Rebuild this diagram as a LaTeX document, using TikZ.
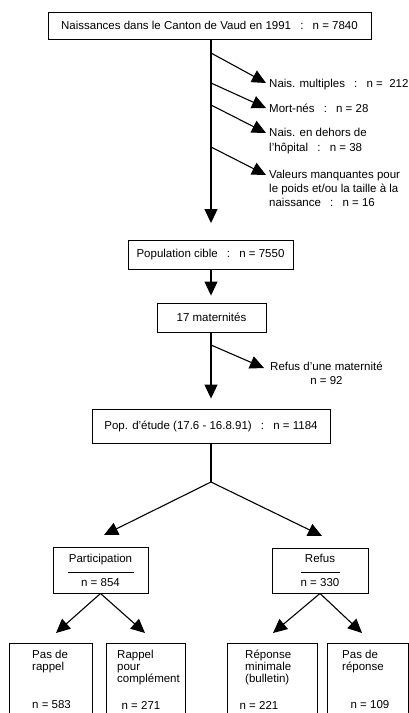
\documentclass[tikz,border=0pt]{standalone}
\usepackage{fontspec}
\setmainfont{Liberation Sans}
\usetikzlibrary{arrows.meta}
\newcommand\figfont{\fontsize{11.5pt}{14pt}\selectfont}
\newcommand\boxfont{\fontsize{11.5pt}{12pt}\selectfont}
\newcommand\sepc{\hspace{0.8em}:\hspace{0.8em}}
\begin{document}
\begin{tikzpicture}[x=1pt,y=-1pt,
  box/.style={draw,line width=0.9pt,inner sep=0pt,align=center,font=\figfont},
  arr/.style={line width=1.1pt,-{Triangle[length=14pt,width=13pt]}},
  ln/.style={line width=1.1pt},
  lab/.style={inner sep=0pt,font=\figfont},
  blab/.style={inner sep=0pt,font=\boxfont},
]
\path[use as bounding box] (0,0) rectangle (409,713);
\clip (0,0) rectangle (409,713);

% main chain
\node[box,minimum width=323pt,minimum height=27pt] (top) at (209.5,25.5)
  {Naissances dans le Canton de Vaud en 1991\sepc n = 7840};
\node[box,minimum width=165pt,minimum height=29pt] (popc) at (210.5,255)
  {Population cible\sepc n = 7550};
\node[box,minimum width=109pt,minimum height=29pt] (mat) at (211.5,317.5)
  {17 maternités};
\node[box,minimum width=238pt,minimum height=34pt] (pope) at (211,426)
  {Pop. d'étude (17.6 - 16.8.91)\sepc n = 1184};

% exclusions
\coordinate (s1) at (211,53);  \coordinate (t1) at (266,83);
\coordinate (s2) at (211,83);  \coordinate (t2) at (266,108);
\coordinate (s3) at (211,105); \coordinate (t3) at (266,133);
\coordinate (s4) at (211,147); \coordinate (t4) at (266,175);
\coordinate (s5) at (211,345); \coordinate (t5) at (264,368);

\node[lab,anchor=west] (l1) at (269,85) {Nais. multiples\sepc n =\ \ 212};
\node[lab,anchor=west] (l2) at (269,108) {Mort-nés\sepc n = 28};
\node[lab,anchor=north west,align=left] (l3) at (269,128)
  {Nais. en dehors de\\[1pt]l'hôpital\sepc n = 38};
\node[lab,anchor=north west,align=left] (l4) at (269,170)
  {Valeurs manquantes pour\\le poids et/ou la taille à la\\naissance\sepc n = 16};
\node[lab,anchor=north west,align=center] (l5) at (270,362)
  {Refus d'une maternité\\n = 92};

\draw[ln] (top.south -| s1) -- (s4);
\draw[arr,shorten >=17pt] (s4) -- (popc.north -| s4);
\draw[arr] (s1) -- (t1);
\draw[arr] (s2) -- (t2);
\draw[arr] (s3) -- (t3);
\draw[arr] (s4) -- (t4);
\draw[arr,shorten >=7pt] (popc.south -| s1) -- (mat.north -| s1);
\draw[ln] (mat.south -| s1) -- (s5);
\draw[arr,shorten >=10pt] (s5) -- (pope.north -| s5);
\draw[arr] (s5) -- (t5);

% branches
\coordinate (apex) at (211,482);
\coordinate (tl) at (104,535);
\coordinate (tr) at (322,536);
\draw[ln] (pope.south -| apex) -- (apex);
\draw[arr] (apex) -- (tl);
\draw[arr] (apex) -- (tr);

\node[box,minimum width=95pt,minimum height=46pt] (part) at (100.5,570)
  {Participation\\[10pt]n = 854};
\node[box,minimum width=96pt,minimum height=45pt] (ref) at (320,570.5)
  {Refus\\[10pt]n = 330};
\draw[line width=0.9pt] ([xshift=-33pt,yshift=-2pt]part.center) -- ([xshift=33pt,yshift=-2pt]part.center);
\draw[line width=0.9pt] ([xshift=-19.5pt,yshift=-2pt]ref.center) -- ([xshift=19.5pt,yshift=-2pt]ref.center);

\coordinate (b1) at (56,633);
\coordinate (b2) at (145,633);
\coordinate (b3) at (273,633);
\coordinate (b4) at (362,633);
\draw[arr] (part.south) -- (b1);
\draw[arr] (part.south) -- (b2);
\draw[arr] (ref.south) -- (b3);
\draw[arr] (ref.south) -- (b4);

% bottom boxes
\node[box,minimum width=83pt,minimum height=82pt] (x1) at (50.5,684) {};
\node[box,minimum width=79pt,minimum height=82pt] (x2) at (145.5,684) {};
\node[box,minimum width=90pt,minimum height=82pt] (x3) at (272,684) {};
\node[box,minimum width=81pt,minimum height=82pt] (x4) at (367.5,684) {};

\node[blab,anchor=north west,align=left] (p1) at (32,650) {Pas de\\rappel};
\node[blab,anchor=north west,align=left] (p2) at (117,650) {Rappel\\pour\\complément};
\node[blab,anchor=north west,align=left] (p3) at (245,650) {Réponse\\minimale\\(bulletin)};
\node[blab,anchor=north west,align=left] (p4) at (342,650) {Pas de\\réponse};
\node[blab,anchor=west] (n1) at (32,705) {n = 583};
\node[blab] (n2) at (141,705) {n = 271};
\node[blab] (n3) at (259,705) {n = 221};
\node[blab] (n4) at (370,705) {n = 109};
\end{tikzpicture}
\end{document}
